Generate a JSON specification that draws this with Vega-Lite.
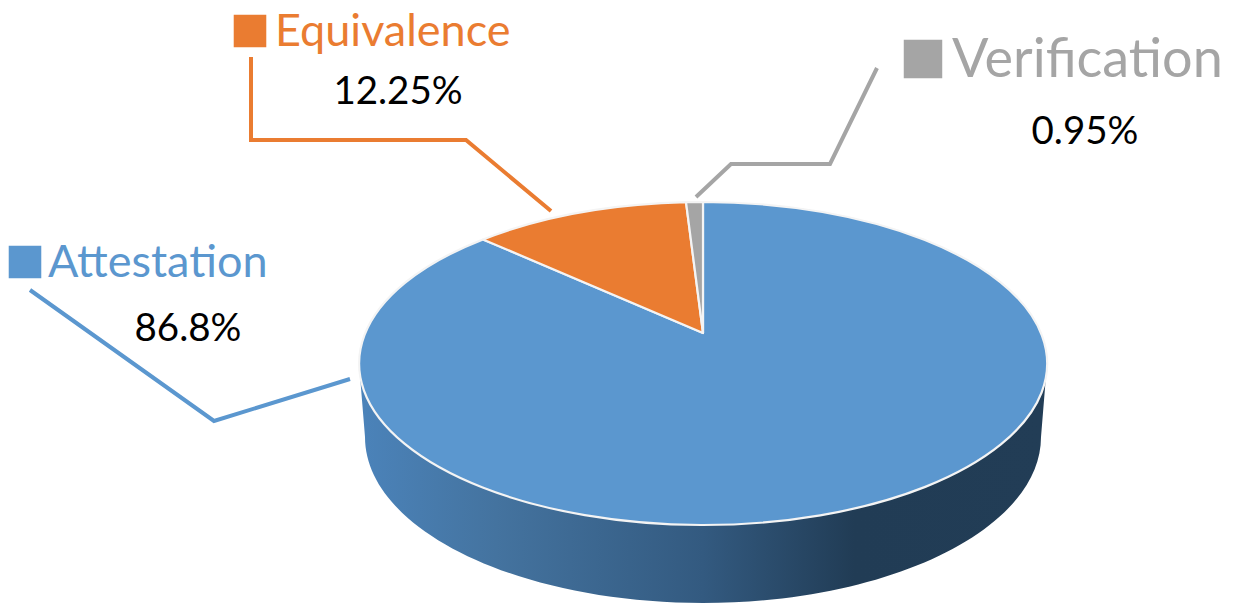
{"$schema":"https://vega.github.io/schema/vega-lite/v6.json","width":1235,"height":603,"autosize":{"type":"fit","contains":"padding"},"padding":0,"background":"white","view":{"stroke":null},"config":{"font":"Lato"},"datasets":{"slices":[{"category":"Attestation","share":86.8,"cx":703,"cy":333},{"category":"Equivalence","share":12.25,"cx":703,"cy":333},{"category":"Verification","share":0.95,"cx":703,"cy":333}],"labels":[{"category":"Attestation","pct":"86.8%","kx":25,"ky":262,"nx":48,"ny":277,"px":188,"py":341},{"category":"Equivalence","pct":"12.25%","kx":250,"ky":31,"nx":275,"ny":46,"px":398,"py":104},{"category":"Verification","pct":"0.95%","kx":923,"ky":59,"nx":952,"ny":77,"px":1085,"py":144}],"leaders":[{"category":"Attestation","order":1,"lx":30,"ly":290},{"category":"Attestation","order":2,"lx":214,"ly":421},{"category":"Attestation","order":3,"lx":350,"ly":379},{"category":"Equivalence","order":1,"lx":251,"ly":57},{"category":"Equivalence","order":2,"lx":251,"ly":140},{"category":"Equivalence","order":3,"lx":466,"ly":140},{"category":"Equivalence","order":4,"lx":551,"ly":211},{"category":"Verification","order":1,"lx":877,"ly":68},{"category":"Verification","order":2,"lx":830,"ly":164},{"category":"Verification","order":3,"lx":731,"ly":164},{"category":"Verification","order":4,"lx":696,"ly":197}]},"layer":[{"data":{"name":"slices"},"transform":[{"filter":"datum.category === 'Attestation'"}],"mark":{"type":"point","filled":true,"opacity":1},"encoding":{"x":{"field":"cx","type":"quantitative","scale":{"domain":[0,1235],"nice":false,"zero":false},"axis":null},"y":{"field":"cy","type":"quantitative","scale":{"domain":[603,0],"nice":false,"zero":false},"axis":null},"size":{"value":4},"shape":{"value":"M-344,30.5 L-338,104 A338,166 0 0 0 338,104 L344,30.5 Z"},"color":{"value":{"gradient":"linear","x1":0,"y1":0,"x2":1,"y2":0,"stops":[{"offset":0,"color":"#4b83ba"},{"offset":0.2,"color":"#44739f"},{"offset":0.5,"color":"#335a80"},{"offset":0.72,"color":"#213c55"},{"offset":1,"color":"#223d56"}]}}}},{"data":{"name":"slices"},"mark":{"type":"point","filled":true,"opacity":1,"stroke":"#f4f4f4","strokeWidth":2.2,"strokeJoin":"round"},"encoding":{"x":{"field":"cx","type":"quantitative","scale":{"domain":[0,1235],"nice":false,"zero":false},"axis":null},"y":{"field":"cy","type":"quantitative","scale":{"domain":[603,0],"nice":false,"zero":false},"axis":null},"size":{"value":4},"shape":{"field":"category","type":"nominal","legend":null,"scale":{"domain":["Attestation","Equivalence","Verification"],"range":["M0,0 L0,-131 A344,161.5 0 1 1 -220,-93.6 Z","M0,0 L-220,-93.6 A344,161.5 0 0 1 -17,-130.8 Z","M0,0 L-17,-130.8 A344,161.5 0 0 1 0,-131 Z"]}},"color":{"field":"category","type":"nominal","legend":null,"scale":{"domain":["Attestation","Equivalence","Verification"],"range":["#5b97cf","#ea7c31","#a5a5a5"]}},"tooltip":[{"field":"category"},{"field":"share"}]}},{"data":{"name":"leaders"},"mark":{"type":"line","strokeWidth":4,"strokeJoin":"miter"},"encoding":{"x":{"field":"lx","type":"quantitative","scale":{"domain":[0,1235],"nice":false,"zero":false},"axis":null},"y":{"field":"ly","type":"quantitative","scale":{"domain":[603,0],"nice":false,"zero":false},"axis":null},"order":{"field":"order"},"detail":{"field":"category"},"color":{"field":"category","type":"nominal","legend":null,"scale":{"domain":["Attestation","Equivalence","Verification"],"range":["#5b97cf","#ea7c31","#a5a5a5"]}}}},{"data":{"name":"labels"},"mark":{"type":"point","filled":true,"opacity":1,"shape":"square"},"encoding":{"x":{"field":"kx","type":"quantitative","scale":{"domain":[0,1235],"nice":false,"zero":false},"axis":null},"y":{"field":"ky","type":"quantitative","scale":{"domain":[603,0],"nice":false,"zero":false},"axis":null},"size":{"field":"category","type":"nominal","legend":null,"scale":{"type":"ordinal","domain":["Attestation","Equivalence","Verification"],"range":[1060,1060,1480]}},"color":{"field":"category","type":"nominal","legend":null,"scale":{"domain":["Attestation","Equivalence","Verification"],"range":["#5b97cf","#ea7c31","#a5a5a5"]}}}},{"data":{"name":"labels"},"transform":[{"filter":"datum.category !== 'Verification'"}],"mark":{"type":"text","align":"left","baseline":"alphabetic","fontSize":45,"font":"Lato"},"encoding":{"x":{"field":"nx","type":"quantitative","scale":{"domain":[0,1235],"nice":false,"zero":false},"axis":null},"y":{"field":"ny","type":"quantitative","scale":{"domain":[603,0],"nice":false,"zero":false},"axis":null},"text":{"field":"category"},"color":{"field":"category","type":"nominal","legend":null,"scale":{"domain":["Attestation","Equivalence","Verification"],"range":["#5b97cf","#ea7c31","#a5a5a5"]}}}},{"data":{"name":"labels"},"transform":[{"filter":"datum.category === 'Verification'"}],"mark":{"type":"text","align":"left","baseline":"alphabetic","fontSize":54,"font":"Lato"},"encoding":{"x":{"field":"nx","type":"quantitative","scale":{"domain":[0,1235],"nice":false,"zero":false},"axis":null},"y":{"field":"ny","type":"quantitative","scale":{"domain":[603,0],"nice":false,"zero":false},"axis":null},"text":{"field":"category"},"color":{"field":"category","type":"nominal","legend":null,"scale":{"domain":["Attestation","Equivalence","Verification"],"range":["#5b97cf","#ea7c31","#a5a5a5"]}}}},{"data":{"name":"labels"},"mark":{"type":"text","align":"center","baseline":"alphabetic","fontSize":38.5,"font":"Lato","color":"#000000"},"encoding":{"x":{"field":"px","type":"quantitative","scale":{"domain":[0,1235],"nice":false,"zero":false},"axis":null},"y":{"field":"py","type":"quantitative","scale":{"domain":[603,0],"nice":false,"zero":false},"axis":null},"text":{"field":"pct"}}}]}
